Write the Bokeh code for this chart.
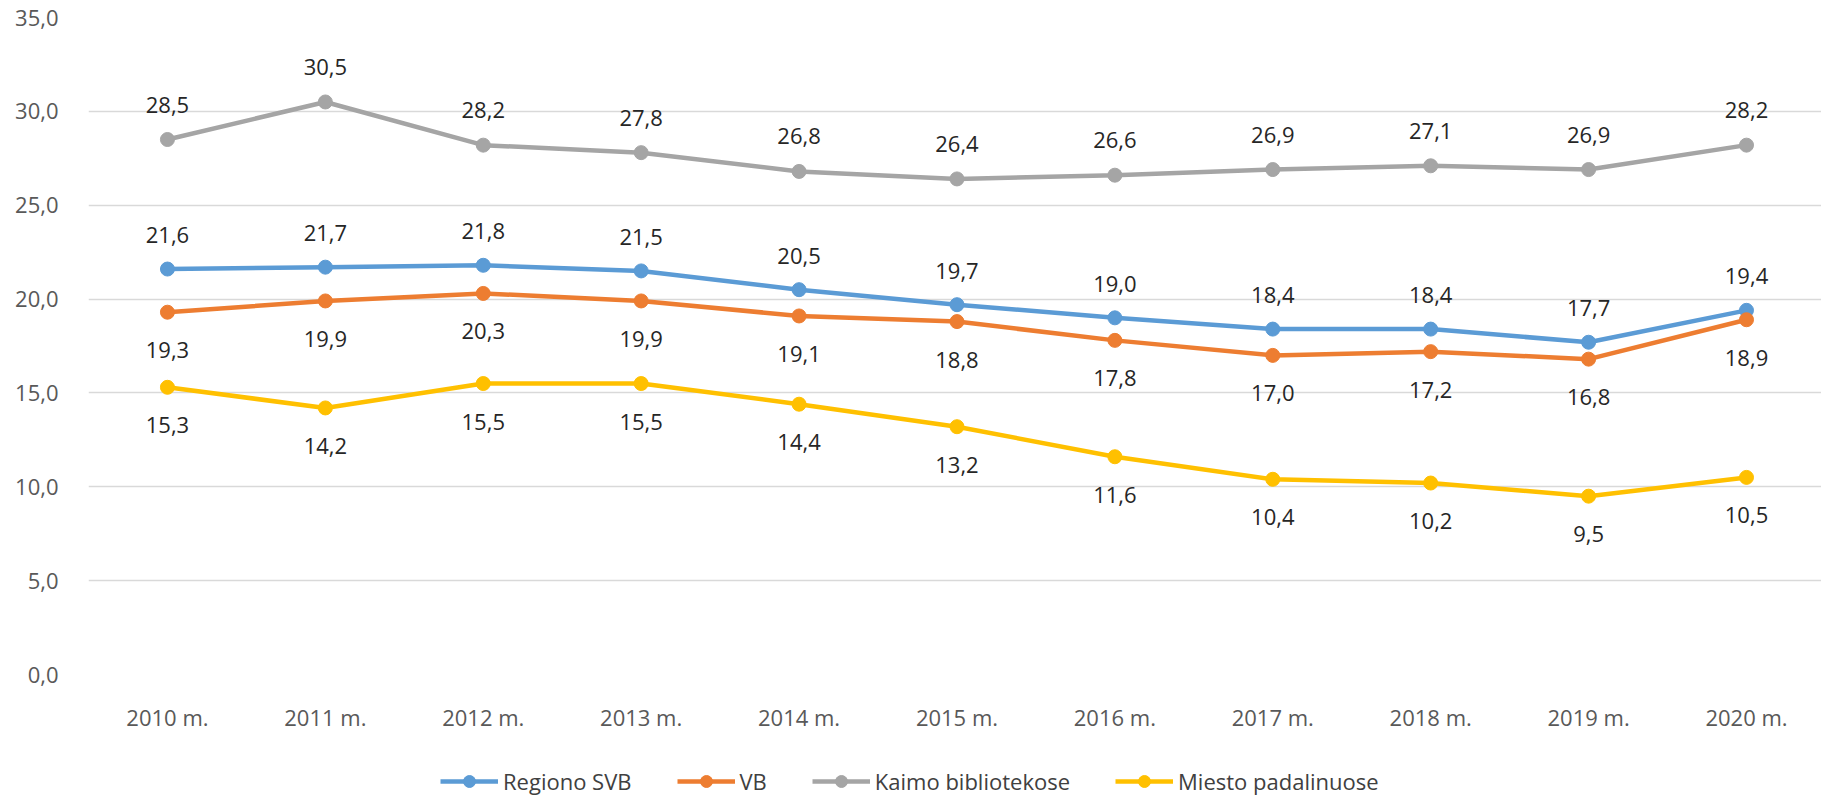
from bokeh.plotting import figure
from bokeh.layouts import column
from bokeh.models import (ColumnDataSource, Range1d, FixedTicker, Legend, LegendItem)
from bokeh.embed import file_html
from bokeh.resources import INLINE
from bokeh.core.properties import value

years = ["2010 m.", "2011 m.", "2012 m.", "2013 m.", "2014 m.", "2015 m.",
         "2016 m.", "2017 m.", "2018 m.", "2019 m.", "2020 m."]
regiono_svb = [21.6, 21.7, 21.8, 21.5, 20.5, 19.7, 19.0, 18.4, 18.4, 17.7, 19.4]
vb = [19.3, 19.9, 20.3, 19.9, 19.1, 18.8, 17.8, 17.0, 17.2, 16.8, 18.9]
kaimo = [28.5, 30.5, 28.2, 27.8, 26.8, 26.4, 26.6, 26.9, 27.1, 26.9, 28.2]
miesto = [15.3, 14.2, 15.5, 15.5, 14.4, 13.2, 11.6, 10.4, 10.2, 9.5, 10.5]
y_ticks = [0, 5, 10, 15, 20, 25, 30, 35]

series = [
    ("Regiono SVB", regiono_svb, "#5B9BD5", -34),
    ("VB", vb, "#ED7D31", 38),
    ("Kaimo bibliotekose", kaimo, "#A5A5A5", -35),
    ("Miesto padalinuose", miesto, "#FFC000", 38),
]

FONT = "Open Sans"

p = figure(width=1821, height=740, output_backend="svg", toolbar_location=None,
           x_range=Range1d(-0.5, 10.475), y_range=Range1d(0, 35),
           min_border_left=88, min_border_right=0, min_border_top=17,
           min_border_bottom=66)
p.outline_line_color = None
p.background_fill_color = "white"
p.border_fill_color = "white"

xs = list(range(len(years)))

# axes
p.xaxis.ticker = FixedTicker(ticks=xs)
p.xaxis.major_label_overrides = {i: years[i] for i in xs}
p.yaxis.ticker = FixedTicker(ticks=y_ticks)
p.yaxis.major_label_overrides = {v: f"{v:.1f}".replace(".", ",") for v in y_ticks}
for ax in (p.xaxis, p.yaxis):
    ax.axis_line_color = None
    ax.major_tick_line_color = None
    ax.minor_tick_line_color = None
    ax.major_label_text_font = FONT
    ax.major_label_text_font_size = "22px"
    ax.major_label_text_color = "#595959"
p.xaxis.major_label_standoff = 21
p.yaxis.major_label_standoff = 24

p.xgrid.grid_line_color = None
p.ygrid.grid_line_color = "#D9D9D9"
p.ygrid.grid_line_width = 1.5

# legend strip below the chart
p2 = figure(width=1821, height=60, output_backend="svg", toolbar_location=None,
            x_range=Range1d(0, 1), y_range=Range1d(0, 1),
            x_axis_location=None, y_axis_location=None,
            min_border=0, min_border_left=0, min_border_right=0,
            min_border_top=0, min_border_bottom=0)
p2.outline_line_color = None
p2.grid.visible = False
p2.background_fill_color = "white"
p2.border_fill_color = "white"

items = []
for name, vals, color, off in series:
    labs = [f"{v:.1f}".replace(".", ",") for v in vals]
    src = ColumnDataSource(dict(x=xs, y=vals, lab=labs))
    p.line("x", "y", source=src, line_color=color, line_width=4.5)
    p.scatter("x", "y", source=src, size=14, fill_color=color, line_color=color)
    p.text("x", "y", text="lab", source=src, text_font=value(FONT),
           text_font_size="22px", text_color="#262626", text_align="center",
           text_baseline="middle", y_offset=off)
    # legend-only renderers in the legend strip (hidden, used for the key glyphs)
    l2 = p2.line("x", "y", source=src, line_color=color, line_width=4.5, visible=False)
    s2 = p2.scatter("x", "y", source=src, size=14, fill_color=color,
                    line_color=color, visible=False)
    items.append(LegendItem(label=name, renderers=[l2, s2]))

legend = Legend(items=items, orientation="horizontal", location=(352, 4),
                glyph_width=58, glyph_height=30, label_height=30,
                label_standoff=5, spacing=45,
                padding=0, margin=0, border_line_color=None,
                background_fill_alpha=0, label_text_font=FONT,
                label_text_font_size="22px", label_text_color="#404040")
p2.add_layout(legend, "center")

layout = column(p, p2, spacing=0)
open("out.html", "w").write(file_html(layout, INLINE))
